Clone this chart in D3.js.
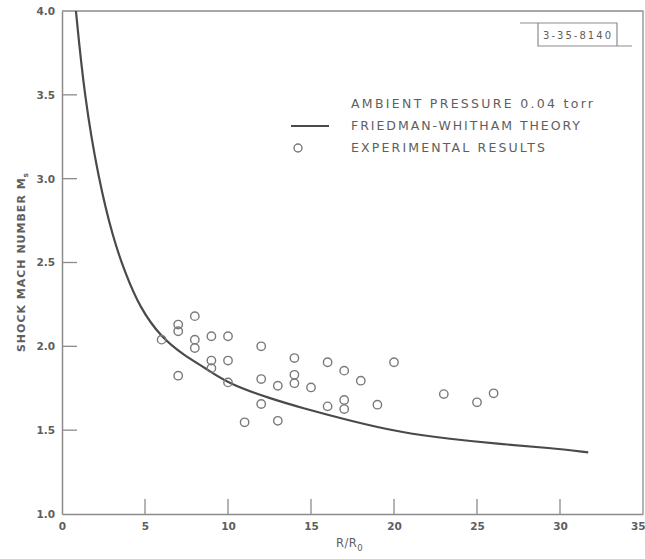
<!DOCTYPE html>
<html>
<head>
<meta charset="utf-8">
<script src="https://cdn.jsdelivr.net/npm/d3@7"></script>
<style>
  html, body { margin: 0; padding: 0; background: #fff; }
  svg { display: block; }
  text { font-family: "DejaVu Sans", "Liberation Sans", sans-serif; fill: #5e5e5e; }
</style>
</head>
<body>
<svg id="chart" width="645" height="559"></svg>
<script>
// ---- data ----
const xTicks = [0, 5, 10, 15, 20, 25, 30, 35];
const yTicks = [1.0, 1.5, 2.0, 2.5, 3.0, 3.5, 4.0];

// Friedman-Whitham theory curve (R/R0, Ms)
const theoryR = [0.84, 1.34, 2.19, 3.09, 3.80, 4.66, 6.0, 7.31, 8.72, 10.0, 12.65, 14.34, 17.35, 20.36, 23.37, 26.4, 29.4, 31.7];
const theoryM = [4.0, 3.5, 3.0, 2.64, 2.44, 2.235, 2.05, 1.95, 1.865, 1.778, 1.685, 1.636, 1.556, 1.487, 1.447, 1.417, 1.394, 1.368];

// Experimental results
const expR = [6, 7, 7, 7, 8, 8, 8, 9, 9, 9, 10, 10, 10, 11, 12, 12, 12, 13, 13, 14, 14, 14, 15, 16, 16, 17, 17, 17, 18, 19, 20, 23, 25, 26];
const expM = [2.04, 2.13, 2.09, 1.825, 2.18, 2.04, 1.99, 2.06, 1.915, 1.87, 2.06, 1.915, 1.785, 1.547, 2.00, 1.805, 1.656, 1.765, 1.556, 1.93, 1.83, 1.78, 1.755, 1.905, 1.642, 1.855, 1.68, 1.626, 1.795, 1.652, 1.905, 1.715, 1.666, 1.72];

const legendTexts = ["AMBIENT PRESSURE  0.04 torr", "FRIEDMAN-WHITHAM THEORY", "EXPERIMENTAL RESULTS"];
const stampText = "3-35-8140";

// ---- layout ----
const svg = d3.select("#chart");
const L = 62, R = 643, T = 11, B = 514;
const x = d3.scaleLinear().domain([0, 35]).range([L, R]);
const y = d3.scaleLinear().domain([1, 4]).range([B, T]);
const axisColor = "#8c8c8c";

// frame (top and right)
svg.append("path")
  .attr("d", `M${L},${T}H${R}V${B}`)
  .attr("fill", "none").attr("stroke", axisColor).attr("stroke-width", 1.3);

// axes
const xAxis = d3.axisBottom(x).tickValues(xTicks).tickSize(0).tickPadding(9).tickFormat(d3.format("d"));
const gx = svg.append("g").attr("transform", `translate(0,${B})`).call(xAxis);
gx.select(".domain").attr("stroke", axisColor).attr("stroke-width", 1.5);
gx.selectAll("text").attr("font-size", 10.5).attr("fill", "#6a6a6a").attr("font-weight", "bold").style("font-family", "DejaVu Sans, sans-serif");
gx.selectAll(".tick").filter(d => d === 35).select("text")
  .attr("text-anchor", "end").attr("x", 2);

const yAxis = d3.axisLeft(y).tickValues(yTicks).tickSize(0).tickPadding(7).tickFormat(d3.format(".1f"));
const gy = svg.append("g").attr("transform", `translate(${L},0)`).call(yAxis);
gy.select(".domain").attr("stroke", axisColor).attr("stroke-width", 1.5);
gy.selectAll("text").attr("font-size", 10.5).attr("fill", "#6a6a6a").attr("font-weight", "bold").style("font-family", "DejaVu Sans, sans-serif");

// inward ticks
svg.append("g").selectAll("line").data(xTicks.filter(d => d > 0 && d < 35)).join("line")
  .attr("x1", d => x(d)).attr("x2", d => x(d))
  .attr("y1", B).attr("y2", B - 15)
  .attr("stroke", axisColor).attr("stroke-width", 1.3);
svg.append("g").selectAll("line").data(yTicks.filter(d => d > 1 && d < 4)).join("line")
  .attr("x1", L).attr("x2", L + 15)
  .attr("y1", d => y(d)).attr("y2", d => y(d))
  .attr("stroke", axisColor).attr("stroke-width", 1.3);

// axis titles
const yt = svg.append("text")
  .attr("transform", `translate(25,262) rotate(-90)`)
  .attr("text-anchor", "middle")
  .attr("font-size", 11)
  .attr("font-weight", "bold")
  .attr("fill", "#6a6a6a")
  .attr("letter-spacing", 1.0);
yt.append("tspan").text("SHOCK MACH NUMBER M");
yt.append("tspan").attr("dy", 3).attr("font-size", 7.5).text("s");

const xt = svg.append("text")
  .attr("x", 336).attr("y", 547)
  .attr("font-size", 11.5).attr("letter-spacing", 0.5);
xt.append("tspan").text("R/R");
xt.append("tspan").attr("dy", 4).attr("font-size", 8.5).text("0");

// theory curve
const theory = theoryR.map((r, i) => [r, theoryM[i]]);
svg.append("path")
  .datum(theory)
  .attr("d", d3.line().x(d => x(d[0])).y(d => y(d[1])).curve(d3.curveBasis))
  .attr("fill", "none").attr("stroke", "#4a4a4a").attr("stroke-width", 2.2);

// experimental points
const exp = expR.map((r, i) => [r, expM[i]]);
svg.append("g").selectAll("circle").data(exp).join("circle")
  .attr("cx", d => x(d[0])).attr("cy", d => y(d[1]))
  .attr("r", 4.2)
  .attr("fill", "none").attr("stroke", "#7a7a7a").attr("stroke-width", 1.4);

// legend
const lg = svg.append("g");
const legX = 351, legY = [108, 130, 152];
const legW = [242, 229, 194];
legendTexts.forEach((t, i) => {
  lg.append("text")
    .attr("x", legX).attr("y", legY[i])
    .attr("font-size", 12.5)
    .attr("fill", "#555")
    .attr("textLength", legW[i]).attr("lengthAdjust", "spacing")
    .text(t);
});
lg.append("line").attr("x1", 291).attr("x2", 329).attr("y1", 126).attr("y2", 126)
  .attr("stroke", "#4a4a4a").attr("stroke-width", 2.2);
lg.append("circle").attr("cx", 298).attr("cy", 148).attr("r", 4)
  .attr("fill", "none").attr("stroke", "#7a7a7a").attr("stroke-width", 1.4);

// stamp box
const st = svg.append("g").attr("stroke", "#8c8c8c").attr("stroke-width", 1.2).attr("fill", "none");
st.append("path").attr("d", "M520,23H617V46");
st.append("path").attr("d", "M538,23V46H632");
svg.append("text").attr("x", 577).attr("y", 39)
  .attr("text-anchor", "middle").attr("font-size", 10)
  .attr("fill", "#555")
  .attr("textLength", 68).attr("lengthAdjust", "spacing")
  .text(stampText);
</script>
</body>
</html>
